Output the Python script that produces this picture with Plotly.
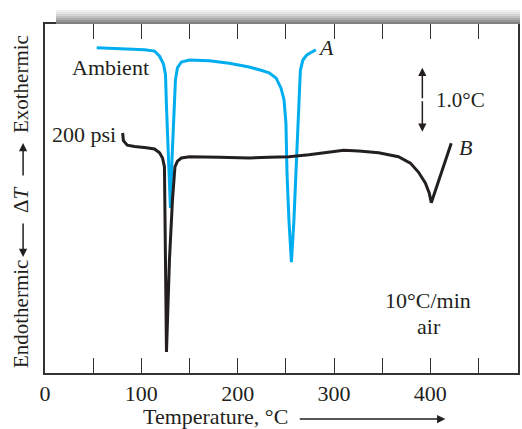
import plotly.graph_objects as go

# Curve A (Ambient) : temperature (°C) and ΔT (°C, arbitrary offset)
temp_a = [53.7, 77.5, 103.4, 113.7, 118.9, 123.0, 125.1, 126.1, 128.2, 130.2, 131.8, 133.3,
          135.4, 137.5, 141.6, 149.9, 170.5, 191.2, 211.9, 224.3, 232.6, 239.8, 245.0, 248.1,
          250.1, 251.2, 253.2, 255.8, 258.4, 260.5, 262.5, 263.6, 265.1, 267.7, 271.8, 281.1]
dt_a = [5.08, 5.07, 5.05, 5.03, 4.95, 4.83, 4.66, 4.16, 3.33, 2.58, 3.33, 3.95,
        4.58, 4.77, 4.86, 4.89, 4.88, 4.84, 4.78, 4.73, 4.69, 4.61, 4.45, 4.27,
        3.91, 3.13, 2.39, 1.73, 2.39, 3.13, 3.95, 4.27, 4.73, 4.89, 4.97, 5.05]

# Curve B (200 psi)
temp_b = [80.6, 81.4, 85.4, 93.0, 105.4, 113.7, 118.9, 122.0, 124.0, 124.5, 125.1, 126.1,
          129.2, 132.3, 134.9, 137.5, 141.6, 149.9, 180.9, 211.9, 232.6, 253.2, 273.9, 294.6,
          310.1, 325.6, 346.3, 366.9, 379.3, 387.6, 394.8, 398.9, 401.0, 421.7]
dt_b = [3.75, 3.63, 3.56, 3.54, 3.52, 3.50, 3.44, 3.36, 3.22, 2.70, 1.77, 0.33,
        1.77, 2.70, 3.22, 3.31, 3.36, 3.38, 3.37, 3.36, 3.37, 3.38, 3.41, 3.45,
        3.48, 3.47, 3.44, 3.38, 3.28, 3.14, 2.97, 2.81, 2.66, 3.59]

tick_vals = [0, 50, 100, 150, 200, 250, 300, 350, 400, 450]
tick_text = ["0", "", "100", "", "200", "", "300", "", "400", ""]

SERIF = "Liberation Serif, Times New Roman, serif"
BLUE = "#00AEEF"
BLACK = "#231F20"
FS = 22

fig = go.Figure()
fig.add_trace(go.Scatter(x=temp_a, y=dt_a, mode="lines",
                         line=dict(color=BLUE, width=3), hoverinfo="skip"))
fig.add_trace(go.Scatter(x=temp_b, y=dt_b, mode="lines",
                         line=dict(color=BLACK, width=3), hoverinfo="skip"))

ann = []
def txt(x, y, t, size=FS, italic=False, xanchor="center"):
    ann.append(dict(x=x, y=y, xref="x", yref="y", text=(f"<i>{t}</i>" if italic else t),
                    showarrow=False, xanchor=xanchor, yanchor="middle",
                    font=dict(family=SERIF, size=size, color=BLACK)))

txt(67.7, 4.77, "Ambient")
txt(5.0, 3.72, "200 psi", xanchor="left")
txt(292.0, 5.08, "A", italic=True)
txt(437.0, 3.53, "B", italic=True)
txt(404.0, 4.27, "1.0°C", size=21, xanchor="left")
txt(398.0, 1.14, "10°C/min")
txt(399.0, 0.72, "air")

# 1.0 °C scale double arrow
for yy, ay in [(4.77, 32), (3.77, -32)]:
    ann.append(dict(x=391.7, y=yy, xref="x", yref="y", text="", showarrow=True,
                    ax=0, ay=ay, arrowhead=2, arrowsize=1.1, arrowwidth=1.5,
                    arrowcolor=BLACK))

def px(x):
    return (x - 45) / 475

def py(y):
    return (373 - y) / 349

# x-axis title with arrow
ann.append(dict(x=px(216), y=py(416), xref="paper", yref="paper",
                text="Temperature, °C", showarrow=False, xanchor="center", yanchor="middle",
                font=dict(family=SERIF, size=FS, color=BLACK)))
ann.append(dict(x=px(447), y=py(419), xref="paper", yref="paper",
                text="", showarrow=True, ax=-147, ay=0, arrowhead=2, arrowsize=1.1,
                arrowwidth=1.5, arrowcolor=BLACK))

# y-axis title pieces (rotated) with arrows
YFS = 21
for label, yc in [("Exothermic", 84), ("Δ<i>T</i>", 200), ("Endothermic", 314)]:
    ann.append(dict(x=px(21), y=py(yc), xref="paper", yref="paper", text=label,
                    textangle=-90, showarrow=False, xanchor="center", yanchor="middle",
                    font=dict(family=SERIF, size=YFS, color=BLACK)))
ann.append(dict(x=px(23), y=py(143), xref="paper", yref="paper", text="", showarrow=True,
                ax=0, ay=34, arrowhead=2, arrowsize=1.1, arrowwidth=1.5, arrowcolor=BLACK))
ann.append(dict(x=px(23), y=py(257), xref="paper", yref="paper", text="", showarrow=True,
                ax=0, ay=-35, arrowhead=2, arrowsize=1.1, arrowwidth=1.5, arrowcolor=BLACK))

# gray bar above the frame (gradient)
shapes = []
grays = ["#f0f0f0", "#e4e4e4", "#d4d4d4", "#c2c2c2", "#adadad", "#979797", "#808080"]
n = len(grays)
for i, g in enumerate(grays):
    y0 = py(10 + i * 14 / n)
    y1 = py(10 + (i + 1) * 14 / n)
    shapes.append(dict(type="rect", xref="paper", yref="paper",
                       x0=px(56), x1=px(522), y0=y1, y1=y0,
                       fillcolor=g, line=dict(width=0), layer="above"))

fig.update_layout(
    width=522, height=429,
    margin=dict(l=45, r=2, t=24, b=56),
    paper_bgcolor="white", plot_bgcolor="white",
    showlegend=False,
    annotations=ann, shapes=shapes,
    xaxis=dict(range=[0, 491], tickvals=tick_vals, ticktext=tick_text,
               ticks="inside", ticklen=15, tickwidth=1.2, tickcolor="#333",
               showline=True, linecolor="#333", linewidth=1.5, mirror="ticks",
               showgrid=False, zeroline=False,
               tickfont=dict(family=SERIF, size=FS, color=BLACK)),
    yaxis=dict(range=[0, 5.453], showticklabels=False, ticks="",
               showline=True, linecolor="#333", linewidth=1.5, mirror=True,
               showgrid=False, zeroline=False),
)

fig.write_html("out.html", config={"displayModeBar": False},
               post_script="document.body.style.margin='0';document.body.style.overflow='hidden';")
